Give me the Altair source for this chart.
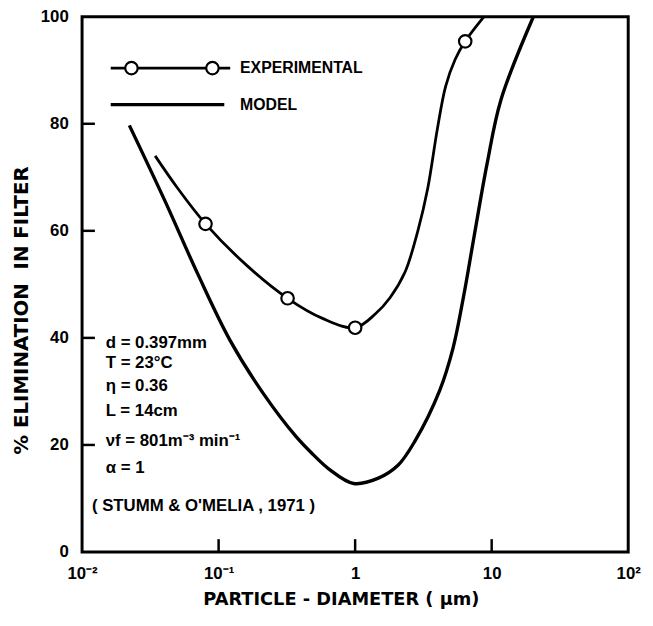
import altair as alt
import pandas as pd

# ---------------- data ----------------
model_x = [0.0222, 0.0406, 0.0702, 0.1216, 0.214, 0.371, 0.493, 0.643, 0.975, 1.48, 2.06, 2.74, 4.15, 5.2, 6.2, 7.44, 9.25, 11.7, 20.2]
model_y = [79.7, 65.5, 52.0, 39.5, 29.5, 21.5, 18.2, 15.5, 12.8, 13.8, 16.2, 20.7, 30.1, 38.0, 47.5, 59.0, 72.5, 84.5, 100.0]

exp_curve_x = [0.0343, 0.0503, 0.0802, 0.1614, 0.320, 0.582, 1.0, 1.41, 1.8, 2.32, 2.88, 3.40, 4.0, 4.6, 5.4, 6.40, 8.79]
exp_curve_y = [74.0, 67.9, 61.3, 53.5, 47.4, 43.6, 41.9, 44.5, 47.5, 52.3, 60.0, 67.9, 79.0, 87.0, 92.0, 95.4, 100.0]

exp_pts_x = [0.0802, 0.320, 1.0, 6.40]
exp_pts_y = [61.3, 47.4, 41.9, 95.4]

x_ticks = [0.01, 0.1, 1, 10, 100]
y_ticks = [0, 20, 40, 60, 80, 100]
inner_x_ticks = [0.1, 1, 10]
inner_y_ticks = [20, 40, 60, 80]

legend_labels = ["EXPERIMENTAL", "MODEL"]
note_lines = ["d = 0.397mm", "T = 23°C", "η = 0.36", "L = 14cm", "νf = 801m⁻³ min⁻¹", "α = 1"]
source_text = "( STUMM & O'MELIA , 1971 )"
x_title = "PARTICLE - DIAMETER ( μm)"
y_title = "% ELIMINATION\u00a0\u00a0IN FILTER"

# ---------------- layout / style ----------------
FONT = "Liberation Sans"
TFONT = "DejaVu Sans"
W, H = 553, 542
xs = alt.Scale(type="log", domain=[0.01, 100])
ys = alt.Scale(domain=[0, 100])

model_df = pd.DataFrame({"x": model_x, "y": model_y})
exp_df = pd.DataFrame({"x": exp_curve_x, "y": exp_curve_y})
pts_df = pd.DataFrame({"x": exp_pts_x, "y": exp_pts_y})
xt_df = pd.DataFrame({"x": inner_x_ticks})
yt_df = pd.DataFrame({"y": inner_y_ticks})
one = pd.DataFrame({"k": [0]})

label_expr = (
    "datum.value == 0.01 ? '10⁻²' : datum.value == 0.1 ? '10⁻¹' : "
    "datum.value == 1 ? '1' : datum.value == 10 ? '10' : '10²'"
)

x_axis = alt.Axis(
    values=x_ticks, labelExpr=label_expr, ticks=False, domain=False, grid=False,
    labelPadding=14, labelFontSize=17, labelFont=FONT, labelFontWeight="bold",
    labelColor="black", labelFlush=False, title=x_title, titleFont=TFONT,
    titleFontSize=18, titleFontWeight="bold", titleColor="black", titlePadding=9,
    titleX=262,
)
y_axis = alt.Axis(
    values=y_ticks, ticks=False, domain=False, grid=False,
    labelPadding=14, labelFontSize=17, labelFont=FONT, labelFontWeight="bold",
    labelColor="black", labelFlush=False, title=y_title, titleFont=TFONT,
    titleFontSize=20, titleFontWeight="bold", titleColor="black", titlePadding=9,
    titleY=297,
)

X = alt.X("x:Q", scale=xs, axis=x_axis)
Y = alt.Y("y:Q", scale=ys, axis=y_axis)

model_line = alt.Chart(model_df).mark_line(
    color="black", strokeWidth=3.4, interpolate="catmull-rom"
).encode(x=X, y=Y)

exp_line = alt.Chart(exp_df).mark_line(
    color="black", strokeWidth=2.8, interpolate="catmull-rom"
).encode(x=X, y=Y)

exp_points = alt.Chart(pts_df).mark_point(
    shape="circle", size=160, filled=True, fill="white", stroke="black",
    strokeWidth=2.2, opacity=1
).encode(x=X, y=Y)

x_inner_ticks = alt.Chart(xt_df).mark_rule(color="black", strokeWidth=2.5).encode(
    x=X, y=alt.value(H), y2=alt.value(H - 13),
)
y_inner_ticks = alt.Chart(yt_df).mark_rule(color="black", strokeWidth=2.5).encode(
    y=Y, x=alt.value(0), x2=alt.value(13),
)

layers = [model_line, exp_line, exp_points, x_inner_ticks, y_inner_ticks]

# manual legend
leg_y = [52, 89]
layers.append(alt.Chart(one).mark_rule(color="black", strokeWidth=2.8).encode(
    x=alt.value(29), x2=alt.value(150), y=alt.value(leg_y[0])))
for cx in [50, 132]:
    layers.append(alt.Chart(one).mark_point(
        shape="circle", size=160, filled=True, fill="white", stroke="black",
        strokeWidth=2.2, opacity=1).encode(x=alt.value(cx), y=alt.value(leg_y[0])))
layers.append(alt.Chart(one).mark_rule(color="black", strokeWidth=3.4).encode(
    x=alt.value(29), x2=alt.value(144), y=alt.value(leg_y[1])))
for lab, ly in zip(legend_labels, leg_y):
    layers.append(alt.Chart(one).mark_text(
        text=lab, align="left", baseline="middle", font=FONT, fontSize=16,
        fontWeight="bold", color="black").encode(x=alt.value(160), y=alt.value(ly)))

# parameter notes
note_y = [330, 351, 374, 399, 430, 457]
for txt, ny in zip(note_lines, note_y):
    layers.append(alt.Chart(one).mark_text(
        text=txt, align="left", baseline="middle", font=FONT, fontSize=17,
        fontWeight="bold", color="black").encode(x=alt.value(24), y=alt.value(ny)))
layers.append(alt.Chart(one).mark_text(
    text=source_text, align="left", baseline="middle", font=FONT, fontSize=17,
    fontWeight="bold", color="black").encode(x=alt.value(10), y=alt.value(495)))

chart = alt.layer(*layers).properties(
    width=W, height=H,
    padding={"left": 75, "top": 5, "right": 17, "bottom": 63},
    autosize=alt.AutoSizeParams(type="none"),
).configure_view(
    stroke="black", strokeWidth=3
)

chart.save("out.html", embed_options={"renderer": "svg", "actions": False})
